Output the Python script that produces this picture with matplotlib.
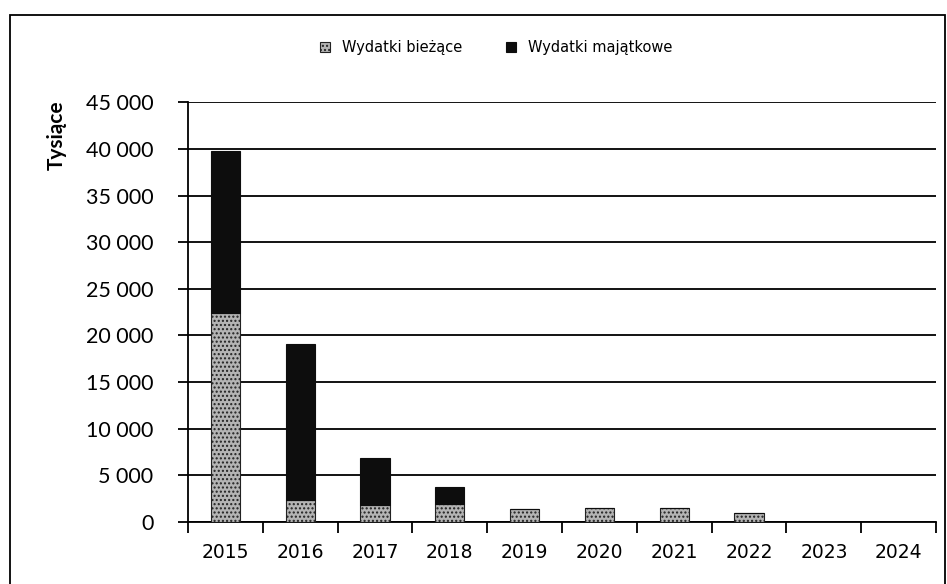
import matplotlib.pyplot as plt
from matplotlib.patches import Rectangle
from matplotlib.ticker import FixedLocator, FuncFormatter

# values (thousands)
years = ["2015", "2016", "2017", "2018", "2019", "2020", "2021", "2022", "2023", "2024"]
biezace = [22400, 2400, 1850, 1950, 1400, 1500, 1550, 1000, 0, 0]
majatkowe = [17350, 16700, 5000, 1800, 0, 0, 0, 0, 0, 0]

fig = plt.figure(figsize=(9.47, 5.84), dpi=100)
ax = fig.add_axes([0.1985, 0.106, 0.79, 0.719])

x = list(range(len(years)))
ax.bar(x, biezace, width=0.39, color="#b4b4b4", edgecolor="#222222",
       hatch="....", linewidth=0.8, label="Wydatki bieżące", zorder=3)
ax.bar(x, majatkowe, width=0.39, bottom=biezace, color="#0d0d0d",
       edgecolor="#0d0d0d", linewidth=0.8, label="Wydatki majątkowe", zorder=3)

ax.set_xlim(-0.5, 9.5)
ax.set_ylim(0, 45000)
ax.set_yticks(range(0, 45001, 5000))
ax.yaxis.set_major_formatter(FuncFormatter(lambda v, p: f"{v:,.0f}".replace(",", " ")))
ax.grid(axis="y", color="black", linewidth=1.3, zorder=0)

# tick marks between categories, labels centred under bars
ax.xaxis.set_major_locator(FixedLocator([i - 0.5 for i in range(len(years) + 1)]))
ax.xaxis.set_major_formatter(FuncFormatter(lambda v, p: ""))
ax.xaxis.set_minor_locator(FixedLocator(x))
ax.set_xticklabels(years, minor=True)
ax.tick_params(axis="x", which="major", length=8, width=1.3, direction="out")
ax.tick_params(axis="x", which="minor", length=0, pad=15, labelsize=13.5)
ax.tick_params(axis="y", length=7, width=1.3, pad=18, labelsize=15.5)
for lab in ax.get_yticklabels():
    lab.set_family("Lato")

for s in ["top", "right"]:
    ax.spines[s].set_visible(False)
ax.spines["left"].set_linewidth(1.3)
ax.spines["bottom"].set_linewidth(1.3)

fig.text(57 / 947, 1 - 135 / 584, "Tysiące", rotation=90, fontsize=15,
         fontweight="bold", ha="center", va="center", family="Lato")

leg = fig.legend(loc="center", bbox_to_anchor=(0.524, 0.918), ncol=2,
                 frameon=False, fontsize=10.5, handlelength=0.7, handleheight=0.7,
                 columnspacing=3, handletextpad=0.8)

# outer frame of the scanned chart
fig.patches.append(Rectangle((10 / 947, -0.01), 935 / 947, 1 - 15 / 584 + 0.01,
                             transform=fig.transFigure, fill=False,
                             edgecolor="black", linewidth=1.3))

fig.savefig("out.png", dpi=100)
